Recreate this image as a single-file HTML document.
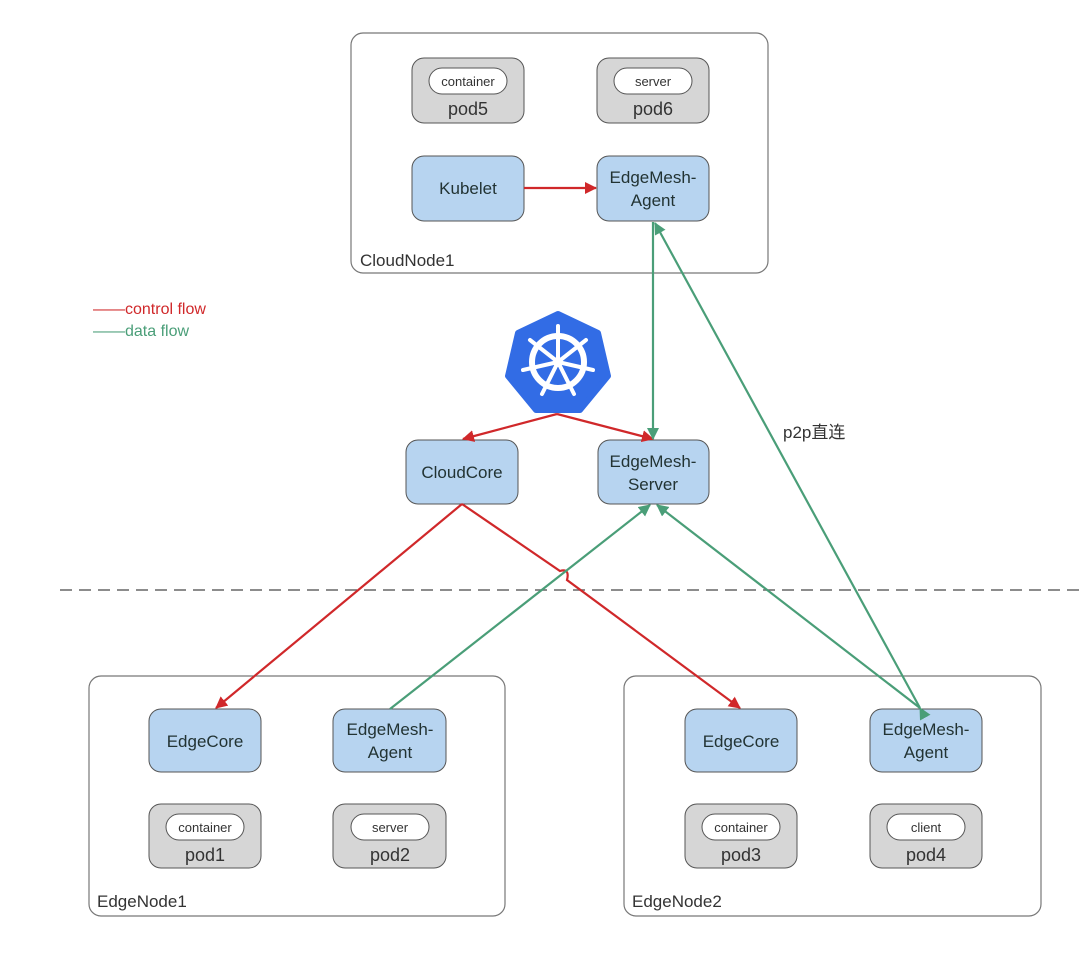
<!DOCTYPE html>
<html><head><meta charset="utf-8"><style>
html,body{margin:0;padding:0;background:#fff;width:1080px;height:963px;overflow:hidden}
svg text{font-family:"Liberation Sans","Noto Sans CJK SC",sans-serif}
</style></head><body>
<svg width="1080" height="963" viewBox="0 0 1080 963" xmlns="http://www.w3.org/2000/svg">
<defs>
<marker id="ar" markerWidth="12" markerHeight="12" refX="11" refY="6" orient="auto" markerUnits="userSpaceOnUse"><path d="M0,0 L12,6 L0,12 z" fill="#d0282a"/></marker>
<marker id="ag" markerWidth="12" markerHeight="12" refX="11" refY="6" orient="auto" markerUnits="userSpaceOnUse"><path d="M0,0 L12,6 L0,12 z" fill="#4a9e78"/></marker>
</defs>
<g fill="none" stroke="#777" stroke-width="1.2">
<rect x="351" y="33" width="417" height="240" rx="12"/>
<rect x="89" y="676" width="416" height="240" rx="12"/>
<rect x="624" y="676" width="417" height="240" rx="12"/>
</g>
<line x1="60" y1="590" x2="1080" y2="590" stroke="#666" stroke-width="1.5" stroke-dasharray="12,7"/>
<g font-size="17" fill="#333">
<text x="360" y="266">CloudNode1</text>
<text x="97" y="907">EdgeNode1</text>
<text x="632" y="907">EdgeNode2</text>
</g>
<g stroke="#555" stroke-width="1">
<rect x="412" y="58" width="112" height="65" rx="12" fill="#d6d6d6"/>
<rect x="597" y="58" width="112" height="65" rx="12" fill="#d6d6d6"/>
<rect x="149" y="804" width="112" height="64" rx="12" fill="#d6d6d6"/>
<rect x="333" y="804" width="113" height="64" rx="12" fill="#d6d6d6"/>
<rect x="685" y="804" width="112" height="64" rx="12" fill="#d6d6d6"/>
<rect x="870" y="804" width="112" height="64" rx="12" fill="#d6d6d6"/>
<rect x="429" y="68" width="78" height="26" rx="13" fill="#fff"/>
<rect x="614" y="68" width="78" height="26" rx="13" fill="#fff"/>
<rect x="166" y="814" width="78" height="26" rx="13" fill="#fff"/>
<rect x="351" y="814" width="78" height="26" rx="13" fill="#fff"/>
<rect x="702" y="814" width="78" height="26" rx="13" fill="#fff"/>
<rect x="887" y="814" width="78" height="26" rx="13" fill="#fff"/>
</g>
<g font-size="13" fill="#333" text-anchor="middle">
<text x="468" y="86">container</text><text x="653" y="86">server</text>
<text x="205" y="832">container</text><text x="390" y="832">server</text>
<text x="741" y="832">container</text><text x="926" y="832">client</text>
</g>
<g font-size="18" fill="#333" text-anchor="middle">
<text x="468" y="115">pod5</text><text x="653" y="115">pod6</text>
<text x="205" y="861">pod1</text><text x="390" y="861">pod2</text>
<text x="741" y="861">pod3</text><text x="926" y="861">pod4</text>
</g>
<g fill="#b7d4f0" stroke="#555" stroke-width="1">
<rect x="412" y="156" width="112" height="65" rx="12"/>
<rect x="597" y="156" width="112" height="65" rx="12"/>
<rect x="406" y="440" width="112" height="64" rx="12"/>
<rect x="598" y="440" width="111" height="64" rx="12"/>
<rect x="149" y="709" width="112" height="63" rx="12"/>
<rect x="333" y="709" width="113" height="63" rx="12"/>
<rect x="685" y="709" width="112" height="63" rx="12"/>
<rect x="870" y="709" width="112" height="63" rx="12"/>
</g>
<g font-size="17" fill="#233" text-anchor="middle">
<text x="468" y="194">Kubelet</text>
<text x="653" y="183">EdgeMesh-</text><text x="653" y="206">Agent</text>
<text x="462" y="478">CloudCore</text>
<text x="653" y="467">EdgeMesh-</text><text x="653" y="490">Server</text>
<text x="205" y="747">EdgeCore</text>
<text x="390" y="735">EdgeMesh-</text><text x="390" y="758">Agent</text>
<text x="741" y="747">EdgeCore</text>
<text x="926" y="735">EdgeMesh-</text><text x="926" y="758">Agent</text>
</g>
<text x="93" y="314" font-size="16" fill="#d0282a">——control flow</text>
<text x="93" y="336" font-size="16" fill="#4a9e78">——data flow</text>
<text x="783" y="438" font-size="17" fill="#333">p2p直连</text>
<g transform="translate(558,362)">
<polygon points="0,-48 40,-29 50,14 22,48 -22,48 -50,14 -40,-29" fill="#326ce5" stroke="#326ce5" stroke-width="6" stroke-linejoin="round"/>
<circle r="26" fill="none" stroke="#fff" stroke-width="6"/>
<circle r="5" fill="#fff"/>
<g stroke="#fff" stroke-width="4" stroke-linecap="round">
<line x1="0" y1="0" x2="0" y2="-36"/>
<line x1="0" y1="0" x2="28" y2="-22"/>
<line x1="0" y1="0" x2="35" y2="8"/>
<line x1="0" y1="0" x2="16" y2="32"/>
<line x1="0" y1="0" x2="-16" y2="32"/>
<line x1="0" y1="0" x2="-35" y2="8"/>
<line x1="0" y1="0" x2="-28" y2="-22"/>
</g>
</g>
<g stroke="#d0282a" stroke-width="2.2" fill="none">
<line x1="524" y1="188" x2="596" y2="188" marker-end="url(#ar)"/>
<line x1="557" y1="414" x2="463" y2="439" marker-end="url(#ar)"/>
<line x1="557" y1="414" x2="653" y2="439" marker-end="url(#ar)"/>
<line x1="462" y1="504" x2="216" y2="708" marker-end="url(#ar)"/>
<path d="M462,504 L560,571 Q570,568 567,580 L740,708" marker-end="url(#ar)"/>
</g>
<g stroke="#4a9e78" stroke-width="2.2" fill="none">
<line x1="653" y1="222" x2="653" y2="439" marker-end="url(#ag)"/>
<line x1="920" y1="708" x2="655" y2="223" marker-end="url(#ag)" marker-start="url(#ag)"/>
<line x1="390" y1="709" x2="650" y2="505" marker-end="url(#ag)"/>
<line x1="920" y1="708" x2="657" y2="505" marker-end="url(#ag)"/>
</g>
</svg>
</body></html>
